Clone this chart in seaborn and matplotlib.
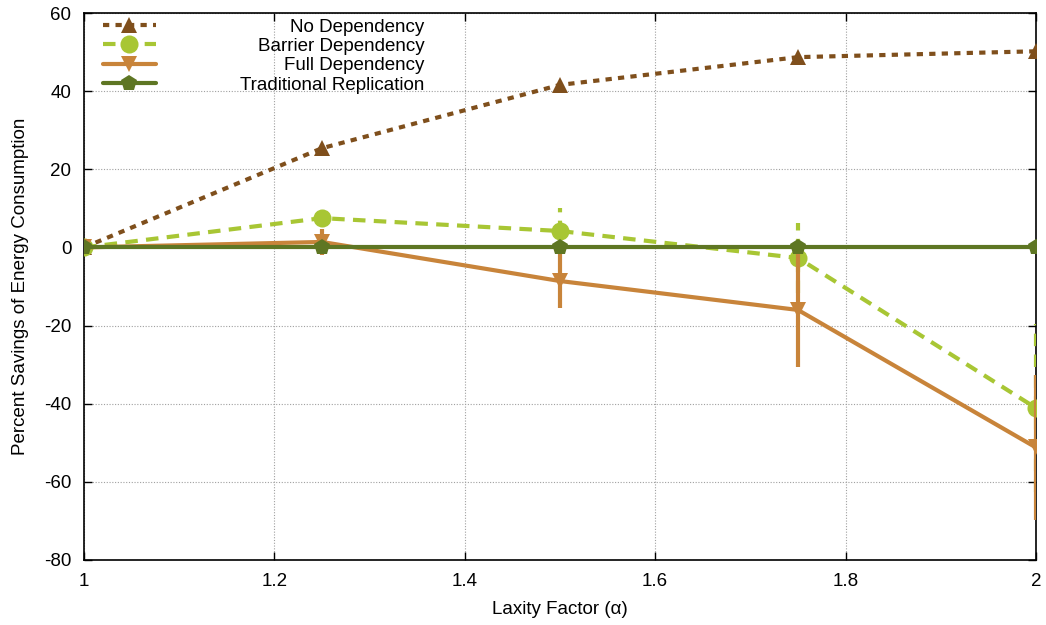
import numpy as np
import pandas as pd
import matplotlib
matplotlib.use("Agg")
import matplotlib.pyplot as plt
import seaborn as sns

laxity = [1.0, 1.25, 1.5, 1.75, 2.0]
no_dep = [0.0, 25.4, 41.6, 48.7, 50.2]
barrier_dep = [0.0, 7.5, 4.2, -2.7, -41.1]
barrier_err = [0.0, 2.0, 6.0, 9.0, 21.6]
full_dep = [0.0, 1.4, -8.6, -16.0, -51.2]
full_err = [0.0, 3.3, 7.0, 14.5, 18.5]
traditional = [0.0, 0.0, 0.0, 0.0, 0.0]

series = [
    ("No Dependency", no_dep, None, "#7f4f1c", (0, (1.5, 1.5)), "^", 11),
    ("Barrier Dependency", barrier_dep, barrier_err, "#a8c634", (0, (3, 2)), "o", 13),
    ("Full Dependency", full_dep, full_err, "#c8843a", "-", "v", 11),
    ("Traditional Replication", traditional, None, "#5e7623", "-", "p", 12),
]

FS = 13.5

sns.set_theme(style="ticks")
plt.rcParams['font.family'] = ['Liberation Sans', 'DejaVu Sans']
plt.rcParams['text.color'] = 'black'
plt.rcParams['axes.labelcolor'] = 'black'

fig = plt.figure(figsize=(10.46, 6.25), dpi=100)
ax = fig.add_axes([0.0803, 0.104, 0.9101, 0.8752])

z = 3
for name, vals, err, color, ls, marker, ms in series:
    if err is not None:
        eb = ax.errorbar(laxity, vals, yerr=err, fmt="none", ecolor=color,
                         elinewidth=3, capsize=0, zorder=z)
        for c in eb[2]:
            c.set_linestyle(ls)
    df = pd.DataFrame({"x": laxity, "y": vals})
    sns.lineplot(data=df, x="x", y="y", ax=ax, color=color, linewidth=3,
                 linestyle=ls, marker=marker, markersize=ms,
                 markeredgewidth=0, label=name, zorder=z + 0.5)
    z += 1

xt = np.arange(1.0, 2.01, 0.2)
yt = np.arange(-80, 61, 20)
ax.set_xlim(1, 2)
ax.set_ylim(-80, 60)
ax.set_xticks(xt)
ax.set_yticks(yt)
ax.set_xticklabels([f"{v:g}" for v in xt])
ax.set_yticklabels([f"{v:g}" for v in yt])
ax.grid(True, color="#a0a0a0", linestyle=(0, (1, 1.5)), linewidth=0.8)
ax.tick_params(direction="in", length=6, width=1, top=True, right=True,
               labelsize=FS, colors="black", pad=9)
for s in ax.spines.values():
    s.set_visible(True)
    s.set_linewidth(1.2)
    s.set_color("black")

ax.set_xlabel("Laxity Factor (\u03b1)", fontsize=FS, labelpad=8)
ax.set_ylabel("Percent Savings of Energy Consumption", fontsize=FS, labelpad=11)

leg = ax.legend(loc="upper left", bbox_to_anchor=(0.02, 0.99), frameon=False,
                fontsize=FS, handlelength=2.8, handletextpad=4.5,
                labelspacing=0.12, borderaxespad=0, borderpad=0)
fig.canvas.draw()
texts = leg.get_texts()
widths = [t.get_window_extent().width for t in texts]
wmax = max(widths)
for t, w in zip(texts, widths):
    t.set_color("black")
    t.set_position((wmax - w, 0))

fig.savefig("out.png", dpi=100)
